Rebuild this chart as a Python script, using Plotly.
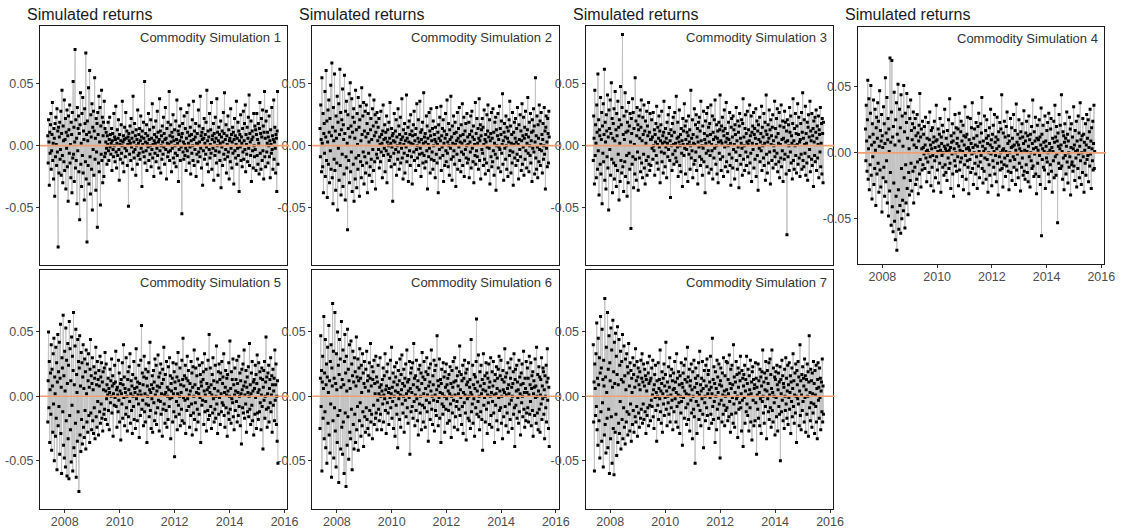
import plotly.graph_objects as go
import pandas as pd

# ---------------- data: simulated daily returns in per-mille (x 0.001) ----------------
start_date = "2007-05-20"
end_date = "2015-10-05"

sim1 = [
    8, -14, 21, 3, -32, 11, -6, 17, 26, -19, -4, 9, 35, -12, 2, -27, 14, 6, -41, 18, -9, 23, 1, -16, 30, -5, 12, -82, 15, -22,
    7, 19, -11, -3, 28, -24, 10, 45, -8, -30, 16, 4, -13, 37, -20, 5, 22, -35, 11, -2, 29, -17, 8, -45, 24, 13, -6, 33, -14, 1,
    -26, 19, 9, -38, 27, -10, 52, -7, 15, -29, 3, 78, -18, 21, -12, 6, -47, 31, -4, 14, 24, -21, 10, -60, 17, 43, -15, 2, -33, 26,
    -8, 39, -22, 12, 5, -44, 30, 18, -13, 75, -27, 9, -78, 20, 4, -16, 47, -31, 11, 61, -9, -39, 25, 7, -19, 34, -52, 15, -3, 28,
    -24, 12, 55, -11, 6, -36, 22, -5, 18, -66, 27, 9, -14, 40, -21, 3, 31, -48, 16, -7, 45, -12, 23, -30, 8, 19, -25, 36, -9, 14,
    -6, 3, 11, -2, -15, 8, 1, 19, -4, -12, 5, 23, -1, 9, -7, 2, 14, -20, 4, 10, -3, -9, 26, 0, 7, -13, 5, 32, -5, -18,
    2, 13, -8, 6, 21, -3, -28, 9, 1, -11, 4, 17, -6, 0, 36, -14, 3, 8, -21, 5, 15, -2, -9, 27, 6, -4, 12, -16, 1, 7,
    -49, 10, 4, -7, 16, 2, -12, 22, -1, 6, -19, 11, 40, -5, 3, -10, 18, -3, 8, -24, 13, 0, 5, -15, 29, -8, 2, 9, -6, 14,
    -11, 4, 24, -2, 7, -33, 12, 1, -5, 19, 6, -9, 52, -14, 3, 10, -4, 17, -20, 2, 8, -1, 26, -12, 5, 13, -7, 0, 21, -17,
    6, -3, 34, -10, 1, 15, -25, 4, 9, -6, 2, 20, -13, 7, -2, 28, -8, 11, 3, -18, 5, 38, -4, 12, -22, 0, 8, -11, 16, 3,
    -7, 23, -1, 10, -15, 5, 31, -3, 6, -27, 14, 2, -9, 19, -5, 1, 44, -12, 8, -4, 17, 3, -21, 11, -2, 7, 25, -10, 4, -14,
    13, 0, -6, 20, -17, 5, 37, -8, 2, 12, -29, 9, -3, 16, 4, -12, 30, -1, 7, -55, 10, 18, -5, 3, -11, 24, 1, -8, 14, -2,
    -20, 6, 27, -4, 11, -9, 2, 33, -14, 8, -1, 15, -23, 4, 9, -6, 21, 0, -12, 36, 5, -16, 12, -3, 7, 18, -25, 2, -7, 10,
    1, -13, 29, -5, 16, 3, -9, 40, -2, 8, -18, 11, 5, -32, 14, -4, 6, 22, -11, 2, 9, -7, 19, -1, 45, -15, 4, 12, -21, 7,
    -3, 26, -10, 1, 13, -6, 35, -19, 5, 8, -2, 18, -28, 10, 3, -8, 23, -4, 6, -14, 38, 0, 11, -24, 4, 15, -5, 9, -12, 2,
    20, -34, 7, -1, 12, -16, 3, 27, -7, 10, 43, -11, 5, -3, 17, -22, 8, 1, -9, 24, -5, 13, -27, 4, 6, -13, 30, -2, 9, -18,
    3, 15, -6, 11, -31, 5, 22, -4, 8, -10, 1, 36, -15, 6, -2, 19, -8, 12, -37, 4, 9, -1, 25, -12, 7, 2, -17, 14, -5, 28,
    -11, 4, 18, -3, 33, -21, 9, 1, -7, 15, -13, 6, 23, -2, 41, -16, 10, 3, -8, 20, -29, 5, 12, -4, 7, -18, 26, 0, -9, 16,
    -3, 13, -20, 9, 26, -8, 5, -15, 18, 2, -23, 14, 35, -6, 10, -19, 22, 7, -12, 29, -4, 16, -27, 11, 44, -9, 6, -17, 20, 28,
    -5, 2, 11, -14, 7, 0, 24, -9, 4, -26, 13, 1, -6, 31, -3, 8, -19, 5, 37, -11, 3, 15, -2, -22, 9, 6, -37, 12, 44, -15,
]

sim2 = [
    14, -9, 33, 5, -21, 55, 2, -17, 26, -38, 10, 18, -6, 44, -25, 7, 61, -12, 20, -42, 3, 29, -15, 37, 11, -30, 22, -4, 49, -19,
    8, 67, -26, 15, -47, 31, 4, -11, 58, -20, 12, -36, 24, 6, -14, 40, -52, 19, -2, 34, -28, 9, 62, -16, 27, -40, 13, 21, -7, 46,
    -33, 17, 5, -23, 57, 10, -44, 28, -9, 36, -18, 2, -68, 25, 14, -12, 42, -30, 7, 51, -21, 16, -5, 38, -37, 11, 23, -15, 30, -45,
    19, 6, -27, 45, -10, 13, -34, 26, 1, -19, 39, -8, 15, -41, 21, 32, -13, 4, -26, 47, 9, -16, 24, -5, 35, -31, 12, -9, 28, -22,
    7, 33, -14, 18, -38, 10, 26, -6, 3, -24, 41, -17, 13, 22, -11, 5, -29, 30, -3, 16, -20, 37, 8, -13, 25, -35, 11, 19, -7, 27,
    -10, 4, 15, -3, 22, -18, 7, 1, -13, 28, -5, 9, 2, -26, 12, 33, -8, 5, -2, 17, -21, 6, 11, -4, 24, -30, 3, 13, -7, 0,
    19, -12, 6, 35, -9, 2, -17, 14, -1, 8, -45, 10, 4, -6, 26, -15, 3, 12, -3, 21, -24, 7, 0, -11, 30, -5, 16, -19, 9, 2,
    23, -14, 5, -2, 38, -10, 7, -27, 13, 1, -6, 18, -22, 4, 10, -1, 41, -13, 6, -8, 15, -29, 3, 20, -4, 9, -16, 25, 2, -9,
    12, -31, 8, 1, 17, -5, 28, -12, 4, 9, -20, 14, -3, 34, 0, -10, 6, 21, -16, 3, -7, 36, -2, 11, -25, 5, 13, -6, 19, -14,
    2, 43, -8, 7, -18, 10, 3, -13, 24, -4, 16, -35, 6, 1, -9, 27, -2, 12, -22, 8, 30, -11, 4, -5, 14, -19, 20, 0, -12, 9,
    5, -26, 15, 3, -7, 31, -14, 1, 11, -38, 17, 6, -3, 23, -10, 4, 32, -20, 8, -1, 14, -8, 21, -29, 2, 12, -16, 6, 26, -4,
    -13, 9, 37, -6, 3, -17, 18, 0, -24, 13, 5, -2, 40, -11, 7, -28, 16, 2, -9, 24, -4, 10, -15, 19, 1, -33, 11, 4, -7, 27,
    -19, 6, 14, -1, 31, -12, 3, 8, -21, 17, -5, 2, 34, -16, 9, -7, 23, -25, 4, 12, -3, 18, -10, 0, 26, -14, 7, 1, -11, 19,
    -26, 9, 3, -5, 24, -18, 12, 28, -2, 7, -13, 16, -30, 5, 1, -8, 35, -15, 10, -4, 22, -9, 2, 14, -19, 6, 38, -12, 4, 17,
    -27, 8, 13, -3, 22, -6, 15, -16, 1, 29, -11, 5, -23, 9, 3, -14, 25, -1, 12, 33, -20, 7, -2, 21, -31, 4, 10, -9, 27, -17,
    6, -13, 30, -4, 11, -24, 2, 19, -7, 23, -36, 13, 0, -10, 8, 26, -18, 5, -1, 32, -3, 14, -21, 9, 20, -6, 1, 42, -15, 4,
    -28, 11, 18, -2, 7, -11, 24, 0, -19, 15, 6, -25, 12, 3, 21, -8, 36, -4, 16, -22, 2, 9, -14, 27, -5, -32, 11, 1, 19, -10,
    6, 22, -16, 3, 14, -7, 31, -12, 1, -27, 17, 5, -3, 25, -9, 12, -20, 4, 34, -15, 8, -1, 23, -24, 6, 15, -11, 28, -4, 9,
    -18, 2, 13, 39, -6, 7, -21, 19, 0, -8, 26, -14, 4, 11, -29, 21, -2, 12, 30, -5, 16, -23, 3, 55, -10, 8, -19, 24, -1, -26,
    17, 6, -13, 33, -3, 20, -16, 1, 27, -4, 9, -22, 5, 18, -11, 0, 31, -7, 12, -35, 15, 24, -2, 3, -17, 22, 10, -14, 28, 7,
]

sim3 = [
    -12, 24, 6, -31, 45, -8, 17, 2, -26, 33, 11, -19, 58, -4, 21, -40, 13, 8, -15, 39, -23, 5, 27, -47, 16, -6, 34, -13, 9, 62,
    -28, 19, 3, -35, 25, 12, -9, 41, -18, 7, -52, 29, 14, -3, 37, -24, 10, 51, -11, 22, -38, 6, 18, -14, 30, -27, 4, 44, -16, 13,
    -33, 26, 8, -20, 36, -7, 15, -44, 21, 2, -29, 48, -12, 17, -22, 31, 90, -17, 9, -37, 24, 5, -13, 43, -25, 11, 28, -8, -41, 19,
    12, -30, 35, -6, 16, -19, 26, 3, -67, 22, 10, -15, 38, -9, 27, -34, 14, 1, -23, 55, -11, 20, -28, 8, 31, -5, 17, -36, 13, 24,
    -10, 6, 29, -21, 15, 37, -14, 4, -26, 23, 9, -7, 33, -18, 12, -31, 20, 2, -12, 28, -24, 16, 8, -9, 35, -15, 11, -20, 26, 5,
    -16, 5, 21, -2, 7, -11, 27, 0, -4, 13, -24, 9, 3, 18, -8, 32, -14, 1, 15, -19, 6, 24, -1, 12, -30, 4, 17, -5, 28, -13,
    2, 8, -22, 11, 36, -6, 3, -17, 14, -1, 6, -26, 19, 2, -9, 25, -3, 10, 31, -12, 4, -42, 13, 0, 8, -20, 18, -7, 23, 1,
    -15, 11, 27, -4, 2, -10, 40, -13, 6, -1, 19, -25, 7, 3, 29, -16, 0, 9, -21, 14, -6, 4, -33, 22, 1, 12, -8, 34, -2, 16,
    -23, 5, 20, -3, 11, 1, -29, 8, 24, -7, 3, 13, -19, 0, 45, -10, 6, -4, 21, -26, 9, 2, -15, 30, 1, -12, 17, -5, 25, -20,
    7, 14, -31, 3, 19, -1, 23, -9, 12, -16, 36, 4, -11, 0, -24, 16, -2, 28, -13, 10, 5, -38, 20, 2, -6, 26, -17, 8, 31, -4,
    15, -22, 3, 18, -8, 9, 33, -19, 1, -4, 24, -27, 11, 5, -10, 21, -2, 37, 7, -15, 0, 17, -23, 6, 12, -30, 3, 19, -6, 13,
    41, -11, 4, -20, 16, 2, 23, -9, 12, -25, 8, 29, -1, 14, -17, 3, 35, -13, 6, 10, -21, 0, 19, 5, -7, 27, -16, 2, -32, 15,
    22, -10, 7, -18, 24, -3, 13, 1, -27, 17, 9, -5, 31, -12, 4, -19, 20, -1, 11, -34, 16, 26, -8, 6, -15, 2, 21, -2, -24, 18,
    38, -11, 7, 0, -20, 14, 25, -5, 10, -16, 3, 28, -9, 1, 13, -22, 4, 33, -14, 8, -6, 24, -29, 11, 2, 16, -3, 27, -18, 9,
    14, -11, 6, 30, -25, 1, 20, -8, 12, -36, 17, 5, -2, 23, -13, 3, 10, -4, 32, -20, 15, 0, 7, -10, 26, -16, 2, 19, -28, 12,
    41, -7, 9, -22, 3, 17, -14, 6, 29, -5, 13, -31, 21, 1, 8, -12, 15, 25, -18, 4, 0, -4, 36, -9, 14, -15, 7, 22, -6, 30,
    -21, 10, 2, -13, 27, -26, 16, 1, -10, 33, -17, 5, -4, 20, -29, 6, 15, -11, 28, -7, 19, 3, -23, 12, -72, 21, 4, -9, 17, 0,
    -20, 31, 11, -5, 24, -14, 8, 2, -27, 18, 38, -12, 4, -19, 14, 0, 26, -8, 10, -22, 16, 1, 34, -15, 9, 23, -10, 3, -25, 5,
    18, -7, 27, -19, 11, 43, -12, 6, -17, 21, 1, -6, 32, -24, 10, 2, -14, 19, -28, 15, 25, -9, 7, -3, 36, -21, 12, 4, -11, 26,
    -16, 8, 14, -33, 20, 3, -8, 23, -13, 11, 29, -20, 6, 16, -10, 1, 24, -26, 13, 9, -5, 31, -17, 2, 18, -23, 22, 10, -30, 19,
]

sim4 = [
    18, -6, 36, 9, -14, 25, 55, -20, 3, 41, -28, 12, -9, 30, 51, -17, 6, -35, 22, -3, 14, 40, -24, 8, -12, 33, 2, -40, 19, 27,
    -16, 11, 38, -8, 24, -30, 5, 47, -13, 17, -26, 9, 29, -45, 13, 4, -19, 35, -11, 22, -33, 7, 57, -22, 15, -6, 42, -38, 10, 26,
    -48, 18, 1, -29, 72, -15, 8, -55, 31, 70, -41, 12, -60, 20, -23, 46, -52, 6, -66, 25, -33, 38, -74, 14, -45, 52, -28, -58, 9, 33,
    -40, 19, -61, 44, -12, -50, 28, -36, 5, -44, 51, -19, 16, -57, 30, -9, -38, 23, 45, -27, 11, -47, 35, -15, 3, -32, 26, -21, 40, -8,
    17, -29, 10, 22, -14, 31, -38, 6, 19, -11, 26, -24, 13, 4, -20, 29, -7, 15, -31, 9, 21, -16, 45, -5, 12, -26, 18, 3, -13, 24,
    -9, 4, 14, -1, 20, -12, 6, 27, -4, 1, -22, 11, 2, -7, 23, 0, -15, 10, 31, -3, 6, -25, 17, 3, -11, 19, -2, 8, -29, 12,
    24, -6, 4, -19, 9, 36, -3, 10, -13, 1, 18, -23, 5, 14, -8, 26, 2, -30, 12, 7, -2, 21, -11, 0, 16, -17, 5, 33, -9, 3,
    -15, 11, 1, -21, 17, 6, -4, 25, -12, 2, 41, -8, 4, -27, 13, 8, -1, 22, -16, 9, -33, 15, 3, -6, 29, -10, 0, 19, -14, 7,
    11, -3, 18, -25, 5, 30, -13, 2, -7, 16, 24, -4, 9, -18, 1, 21, -28, 13, 6, -9, 35, -2, 12, -20, 3, 14, -6, 27, -11, 4,
    -31, 10, 2, -5, 26, -15, 7, 19, -1, 38, -12, 4, -24, 11, 0, 18, -8, 6, -16, 23, -3, 13, -27, 5, 20, -10, 30, 1, -19, 8,
    -7, 22, -2, 15, 42, -12, 5, -23, 9, 1, -14, 28, -4, 3, 17, -20, 11, 25, -5, 7, -30, 13, 0, -9, 19, -17, 6, 33, -1, 10,
    -25, 4, 14, -6, 21, -11, 1, 29, -16, 8, -2, 12, -22, 3, 27, -8, 10, -32, 16, 5, -3, 23, -13, 0, 18, -7, 44, -12, 2, -26,
    15, 3, -9, 24, -4, 12, -18, 1, 20, -10, 31, -2, 7, -14, 13, -28, 9, 0, -6, 26, -15, 4, 19, -21, 11, 5, -3, 29, -11, 6,
    -5, 17, -24, 2, 37, -13, 8, -1, 14, -19, 6, 25, -8, 3, 11, -29, 16, 1, -11, 22, -4, 12, -17, 7, 32, -14, 2, -20, 9, 15,
    -9, 24, 1, -15, 13, -22, 5, 28, -3, 10, -26, 14, 0, -6, 20, -12, 7, 40, -10, 3, -18, 16, -1, 9, 27, -16, 4, -31, 11, 21,
    -8, 2, 10, -18, 25, -2, 12, -24, 6, 34, -63, 14, -5, 3, 21, -11, 8, 1, -13, 28, -27, 9, 5, -4, 17, -7, 23, 0, -16, 30,
    -22, 7, 2, -9, 18, 26, -14, 4, -30, 11, 1, -6, 24, -19, 8, 36, -3, 12, -17, 20, -1, 9, -53, 15, 5, -8, 29, -12, 3, 21,
    -12, 6, 44, -10, 1, -20, 16, -4, 13, -28, 8, 22, -2, 11, -16, 5, 31, -7, 14, -23, 9, 0, -11, 27, -3, 18, -32, 4, 22, -9,
    -7, 12, -14, 3, 35, -10, 6, -21, 17, 1, -4, 24, -26, 9, 2, -12, 28, -1, 15, -19, 5, 38, -6, 10, -24, 0, 13, -15, 26, -3,
    14, -30, 8, 2, -8, 22, -17, 6, 29, -5, 11, -2, 25, -22, 4, 16, -10, 33, -1, 9, -27, 19, 3, -6, 24, -13, 7, 36, -12, 1,
]

sim5 = [
    -20, 12, 50, -9, 27, -36, 5, 18, -14, 40, -42, 21, 8, -28, 33, -6, 45, -50, 15, 2, -31, 38, -17, 26, -57, 11, 48, -23, 19, -8,
    42, -45, 14, 56, -29, 7, -60, 30, 22, -12, 63, -38, 16, -48, 35, 4, -55, 53, -19, 28, -62, 10, 41, -33, 24, -64, 58, -15, 37, -26,
    12, -51, 46, -7, 31, -58, 20, 65, -40, 9, -46, 39, -21, 52, -63, 17, 3, -35, 44, -12, 27, -74, 22, 47, -30, 8, -43, 34, -18, 26,
    -37, 15, 40, -24, 6, -32, 29, -11, 19, -41, 36, 2, -20, 25, -28, 12, 33, -15, 7, -36, 21, 44, -13, 16, -26, 10, 30, -19, 5, -29,
    23, -9, 14, -33, 18, 38, -16, 9, -24, 27, -4, 13, -30, 20, 8, -12, 31, -21, 15, -6, 26, -17, 11, -27, 19, 5, -14, 22, -10, 34,
    -18, 4, 25, -2, 9, -22, 1, 14, -11, 6, -26, 3, 21, -5, 12, 0, 29, -13, 8, 16, -31, 2, 10, -7, 24, -1, 11, 35, -8, 5,
    -24, 7, 1, -12, 28, -3, 18, -20, 4, 10, -34, 13, 2, -6, 26, -17, 9, 40, -1, 15, -23, 6, 3, -14, 30, -9, 0, -27, 13, 19,
    -16, 5, 23, -4, 33, -21, 2, 12, -11, 8, -29, 17, 0, -8, 27, -18, 6, 3, -25, 14, 37, -2, 7, -19, 11, 1, -6, 24, -32, 10,
    4, -15, 28, 1, 55, -10, 18, -3, 9, -23, 15, 31, -12, 2, -20, 21, -6, 14, -36, 8, 0, 19, -7, 26, -16, 5, 42, -11, 3, -25,
    9, -2, 16, -28, 6, 20, -5, 11, -19, 29, 1, -13, 24, -22, 4, 8, -9, 32, -3, 15, -27, 7, 18, -4, 25, -14, 2, 10, -31, 21,
    -10, 13, 38, -6, 1, -21, 17, 3, -11, 27, -24, 7, 0, -18, 23, 5, -8, 30, -2, 16, -33, 10, 4, -1, 14, -20, 26, 2, -12, 19,
    -47, 11, 6, -16, 25, -4, 15, -26, 2, 34, -7, 12, -14, 0, 22, -23, 9, 3, -10, 28, -19, 13, 45, -1, 8, -21, 16, -3, 24, -29,
    14, 5, -11, 31, -2, 12, 20, -8, 1, -24, 10, 4, -15, 27, -6, 18, -30, 7, 23, -13, 0, 36, -18, 9, -5, 22, -26, 3, 16, -10,
    29, -20, 6, 2, -14, 24, -1, 17, -36, 11, 8, -7, 26, -3, 13, 19, -22, 4, 33, -12, 1, -4, 21, -27, 10, 5, -11, 28, -18, 7,
    48, -15, 3, 22, -8, 9, -25, 1, 17, -13, 30, -2, 12, -20, 6, -10, 24, -17, 0, 39, -6, 11, -29, 4, 19, -14, 25, -1, 13, -22,
    18, 2, -12, 27, -5, 10, 15, -7, 33, -15, 3, -24, 7, 20, -9, 1, 14, -31, 17, 4, -13, 26, -18, 0, 43, -10, 6, -21, 19, -2,
    13, -5, 29, -16, 9, -26, 1, 22, -11, 4, 13, -4, 28, -20, 10, 3, -15, 31, -8, 0, 18, -23, 12, 2, -37, 21, 5, -9, 25, -13,
    8, 36, -17, 1, 11, -6, 20, -28, 7, 15, -12, 3, 23, -16, 0, 41, -10, 9, -22, 2, 18, -7, 27, -19, 4, 11, -30, 13, 6, -14,
    24, -1, 17, -25, 10, 32, -13, 3, -18, 26, 5, -12, 19, -5, 14, -26, 1, 22, -8, 13, -41, 7, 20, -3, 27, -17, 0, 11, 46, -10,
    15, -24, 2, 18, -9, 24, -20, 6, 13, -5, 30, -12, 1, 16, -28, 9, 21, -7, 4, 14, -19, 36, -3, 9, 25, -22, 0, -35, 12, -52,
]

sim6 = [
    -25, 14, 47, -8, 20, -58, 11, 31, -17, 6, 62, -33, 18, -12, 44, -40, 9, 25, -52, 15, 38, -21, 3, 55, -30, 12, -44, 27, -6, 40,
    -63, 22, 8, 72, -19, 35, -48, 14, -9, 65, -27, 10, -55, 33, 5, -36, 50, -15, 24, -67, 17, 44, -11, 29, -41, 7, 58, -24, 13, -45,
    36, -20, 9, -60, 27, 48, -13, 18, -70, 31, 4, -38, 52, -16, 21, -49, 12, 40, -28, 6, -33, 43, -10, 25, -57, 16, 35, -22, 11, -41,
    30, -14, 19, -36, 8, 46, -26, 15, -8, 29, -42, 12, 22, -19, 37, -5, 14, -31, 24, 3, -23, 33, -12, 18, -39, 10, 27, -16, 7, -28,
    21, -9, 35, -18, 12, -25, 16, 4, -30, 26, -11, 14, 41, -20, 8, -14, 23, -33, 13, 19, -7, 28, -22, 10, 2, -17, 31, -13, 15, -26,
    11, -3, 24, -10, 2, -19, 7, 30, -14, 0, 9, -26, 4, 13, -6, 22, -20, 1, 16, -2, 33, -11, 5, -29, 8, 19, -5, 25, -13, 3,
    -22, 6, 14, -1, 28, -9, 2, 38, -17, 7, -4, 18, -25, 11, 0, 23, -31, 4, 15, -7, 26, -14, 9, -40, 3, 20, -2, 12, -18, 29,
    1, -24, 17, 5, 32, -6, 10, -13, 0, 21, -28, 8, 14, -3, 25, -16, 2, 36, -9, 11, -21, 4, 13, -1, 27, -45, 6, 18, -12, 22,
    3, -8, 26, -17, 9, 41, -4, 14, -23, 1, 16, -11, 28, -2, 7, -19, 12, -30, 21, 5, -6, 24, -13, 0, 18, -26, 10, 34, -7, 15,
    -20, 2, 27, -9, 13, -24, 6, 19, -3, 30, -12, 1, 17, -35, 8, 22, -5, 11, -18, 25, 4, 36, -10, 0, -22, 16, 9, -3, 28, -27,
    20, 1, -11, 24, -15, 5, 47, -4, 12, -23, 8, -1, 29, -17, 3, 13, -36, 10, 21, -6, 2, -14, 26, -8, 15, 0, -28, 19, 7, -10,
    25, -2, 9, -21, 14, 4, -11, 17, -19, 2, 23, -6, 10, -32, 0, 20, -13, 7, 27, -3, 11, -24, 30, 1, -16, 12, -8, 22, -4, 16,
    -26, 8, 2, -10, 19, 39, -15, 5, -1, 17, -22, 12, -8, 24, -29, 3, 14, -5, 28, 1, -13, 18, -34, 9, 21, -2, 11, -17, 26, 0,
    -19, 7, 13, -25, 3, 44, -12, 1, -6, 24, -21, 9, -2, 17, -31, 6, 15, -9, 27, 60, -14, 4, 11, -4, 32, -16, 0, -26, 19, 8,
    -12, 24, 2, -18, 13, -42, 5, 33, -7, 10, -1, 16, -20, 4, 26, -10, 18, -29, 1, 14, -5, 25, 7, -22, 11, 0, 30, -15, 3, -24,
    19, -4, 8, 27, -13, 1, -36, 12, 17, -7, 2, 23, -19, 6, 14, -26, 21, -1, 31, -11, 4, 16, -9, 28, -21, 0, 13, -33, 20, 5,
    -16, 11, 3, 37, -8, 15, -23, 1, 18, -13, 6, 26, -28, 9, 2, -6, 22, -18, 14, 29, -3, 7, -25, 0, 10, 19, -14, 33, -9, -39,
    13, 21, -7, 4, 24, -17, 11, -1, 5, -21, 28, -12, 15, 2, -30, 9, 18, -5, 25, 0, -16, 10, 35, -10, 3, -24, 14, 6, -19, 27,
    -13, 3, 22, -9, 14, -20, 1, 31, -14, 9, -4, 26, -23, 6, 16, -11, 19, -31, 2, 12, 7, -15, 29, -1, 8, -21, 38, 0, -13, 17,
    -26, 4, 23, -10, 15, -28, 1, 13, -6, 30, -18, 8, -2, 22, 19, -14, 5, -33, 16, 0, -9, 24, -20, 11, 37, -3, 14, -25, 7, -39,
]

sim7 = [
    40, -20, 11, -58, 25, 6, -15, 33, -8, 57, -26, 14, -38, 45, 9, -19, 30, -48, 18, 62, -12, 22, -35, 52, -5, 13, -55, 28, 8, -30,
    76, -22, 15, -44, 38, 3, -17, 65, -40, 21, -10, 47, -60, 26, 12, -33, 53, -16, 36, -52, 7, 59, -25, 19, -61, 42, 10, -28, 49, -14,
    31, -46, 17, 54, -36, 9, -21, 44, -29, 24, -4, 35, -41, 13, 27, -18, 48, -33, 11, -9, 39, -24, 16, -37, 29, 5, -20, 33, -12, 23,
    -30, 18, 41, -14, 8, -27, 26, -6, 20, -35, 14, 3, -22, 30, -11, 17, -28, 24, 7, -16, 37, -20, 12, -8, 27, -31, 15, 22, -13, 9,
    -24, 19, 5, -17, 28, -10, 14, 33, -21, 11, -6, 25, -18, 8, 21, -12, 16, -29, 13, 4, -15, 26, -9, 18, -23, 10, 31, -7, 12, -19,
    14, -3, 22, -8, 1, 28, -16, 5, -25, 9, 17, -1, 24, -11, 3, -35, 12, 0, -7, 26, -18, 6, 13, -2, 36, -12, 4, -21, 10, 19,
    -28, 2, 14, -6, 25, -15, 8, -1, 17, 42, -10, 4, -23, 11, 0, -5, 23, -14, 7, 30, -20, 16, 1, -9, 21, -3, 12, -26, 5, 18,
    -12, 6, 27, -2, 11, -20, 3, 33, -8, 14, -24, 1, 19, -5, 9, -29, 16, 0, -13, 26, -4, 10, -38, 7, 18, -1, 24, -17, 4, 13,
    29, -9, 2, -22, 11, 38, -6, 15, -18, 1, 21, -27, 8, 12, -3, 25, -13, 5, -33, 19, 0, -10, 28, -16, 7, -52, 14, 22, -4, 10,
    -29, 3, 16, -7, 26, -18, 1, 35, -11, 9, -23, 4, 14, -2, 27, -14, 6, -40, 12, 20, -5, 0, -19, 24, 8, -9, 29, -15, 2, 17,
    20, -25, 5, 11, -1, 31, -14, 7, -21, 2, 45, -8, 13, -18, 23, -4, 10, -36, 19, 0, 6, -26, 28, -10, 15, 3, -17, 25, -6, 9,
    -48, 12, 22, -3, 8, -20, 18, 1, -14, 30, -7, 4, -23, 16, 0, -11, 27, 5, -9, 26, -19, 13, 2, -16, 32, -4, 10, -28, 21, 6,
    -14, 24, -1, 9, -21, 40, -6, 15, -24, 3, 11, -13, 27, -2, 17, 0, -32, 22, 7, -10, 18, -5, 12, 31, -9, 2, -27, 20, -3, 14,
    -39, 8, 17, -1, 24, -21, 4, 13, -12, 31, -6, 10, -15, 21, 1, -27, 16, 5, -9, 28, -20, 2, 11, -34, 19, 23, -3, 13, -23, 6,
    9, -19, 26, -5, 14, -45, 7, 1, -10, 25, -17, 12, 3, -23, 21, -2, 15, -29, 8, 19, -4, 36, 0, -13, 11, -21, 18, 5, -8, 27,
    14, -33, 4, 20, -2, 10, -12, 26, -18, 1, 29, -9, 17, -24, 6, 36, -11, 3, -20, 22, 0, -5, 15, -30, 13, 19, -1, -16, 24, 9,
    -27, 5, 18, -8, 11, -14, 23, -50, 13, 2, -12, 28, -3, 16, -19, 10, 7, -25, 21, 0, -11, 30, -6, 14, -17, 4, 24, -22, 9, -1,
    26, -10, 3, 16, -29, 11, -4, 22, -16, 6, 33, -8, 12, -21, 1, 18, -13, 25, 0, -36, 20, 9, -2, 27, -6, 15, -23, 4, 40, -15,
    12, -26, 1, 17, -11, 23, -4, 14, 8, -20, 29, -1, 16, -28, 5, 13, -14, 25, 0, 19, -31, 11, 47, -9, 3, -19, 21, -5, 12, -24,
    18, 2, -13, 27, -6, 10, -29, 20, 1, -8, 24, -20, 6, -33, 13, 26, -3, 7, -17, 22, -1, 14, -26, 4, 11, -12, 29, -20, 8, -14,
]

series = [sim1, sim2, sim3, sim4, sim5, sim6, sim7]
panel_labels = ["Commodity Simulation 1", "Commodity Simulation 2", "Commodity Simulation 3",
                "Commodity Simulation 4", "Commodity Simulation 5", "Commodity Simulation 6",
                "Commodity Simulation 7"]
title_text = "Simulated returns"
y_tick_values = [-0.05, 0.0, 0.05]
y_tick_labels = ["-0.05", "0.00", "0.05"]
x_tick_years = [2008, 2010, 2012, 2014, 2016]

# ---------------- layout geometry (pixels) ----------------
W, H = 1122, 529
WX = 1110  # effective horizontal extent used for placing panels (compensates rendering width)
boxes = [  # (left, right, top, bottom)
    (40, 287, 26, 266), (312, 558, 26, 266), (585, 832, 26, 266), (857, 1103, 27, 264),
    (40, 287, 271, 510), (312, 558, 271, 510), (585, 832, 271, 510),
]
y_ranges = [(-0.097, 0.097)] * 3 + [(-0.084, 0.0955)] + [(-0.0876, 0.0977)] * 3
show_x_labels = [False, False, False, True, True, True, True]
x_range = ["2007-02-06", "2016-02-06"]

FONT = "Liberation Sans, Arial, sans-serif"
fig = go.Figure()

for i, vals in enumerate(series):
    n = i + 1
    xid = "x" if n == 1 else f"x{n}"
    yid = "y" if n == 1 else f"y{n}"
    dates = pd.date_range(start_date, end_date, periods=len(vals))
    yv = [v / 1000.0 for v in vals]
    fig.add_trace(go.Scatter(
        x=dates, y=yv, mode="lines+markers",
        line=dict(color="#C2C2C2", width=1),
        marker=dict(color="black", size=3.0, symbol="square", line=dict(width=0)),
        xaxis=xid, yaxis=yid, showlegend=False, hoverinfo="skip",
    ))
    l, r, t, b = boxes[i]
    xa = dict(domain=[l / WX, min(r / WX, 1.0)], range=x_range, type="date", showgrid=False, zeroline=False,
              showline=True, mirror=True, linecolor="#1a1a1a", linewidth=1,
              ticks="outside" if show_x_labels[i] else "", ticklen=3, tickcolor="#333333",
              tickvals=[f"{yr}-01-01" for yr in x_tick_years],
              ticktext=[str(yr) for yr in x_tick_years],
              showticklabels=show_x_labels[i], ticklabelstandoff=-2,
              tickfont=dict(family=FONT, size=12.5, color="#4D4D4D"),
              anchor=yid)
    ya = dict(domain=[1 - b / H, 1 - t / H], range=list(y_ranges[i]), showgrid=False, zeroline=False,
              showline=True, mirror=True, linecolor="#1a1a1a", linewidth=1,
              ticks="outside", ticklen=3, tickcolor="#333333",
              tickvals=y_tick_values, ticktext=y_tick_labels,
              tickfont=dict(family=FONT, size=12.5, color="#4D4D4D"),
              anchor=xid)
    key = "" if n == 1 else str(n)
    fig.update_layout(**{f"xaxis{key}": xa, f"yaxis{key}": ya})
    fig.add_shape(type="line", xref=f"{xid} domain", yref=yid,
                  x0=0, x1=1.008, y0=0, y1=0,
                  line=dict(color="#F0A070", width=1.7), layer="above")
    fig.add_annotation(x=(r - 4) / WX, y=1 - (t + 12) / H, xref="paper", yref="paper",
                       text=panel_labels[i], showarrow=False, xanchor="right", yanchor="middle",
                       font=dict(family=FONT, size=13, color="#333333"))
    if t < 100:
        fig.add_annotation(x=(l - 15) / WX, y=1 - 15 / H, xref="paper", yref="paper",
                           text=title_text, showarrow=False, xanchor="left", yanchor="middle",
                           font=dict(family=FONT, size=16, color="#1a1a1a"))

fig.update_layout(width=W, height=H, autosize=False,
                  margin=dict(l=0, r=0, t=0, b=0),
                  paper_bgcolor="white", plot_bgcolor="white",
                  font=dict(family=FONT))

post_js = ("document.body.style.margin='0';document.body.style.overflow='hidden';"
           "var gd=document.getElementById('{plot_id}');"
           "Plotly.relayout(gd,{width:1122,height:529});")
fig.write_html("out.html", config={"displayModeBar": False, "responsive": False},
               post_script=post_js)
